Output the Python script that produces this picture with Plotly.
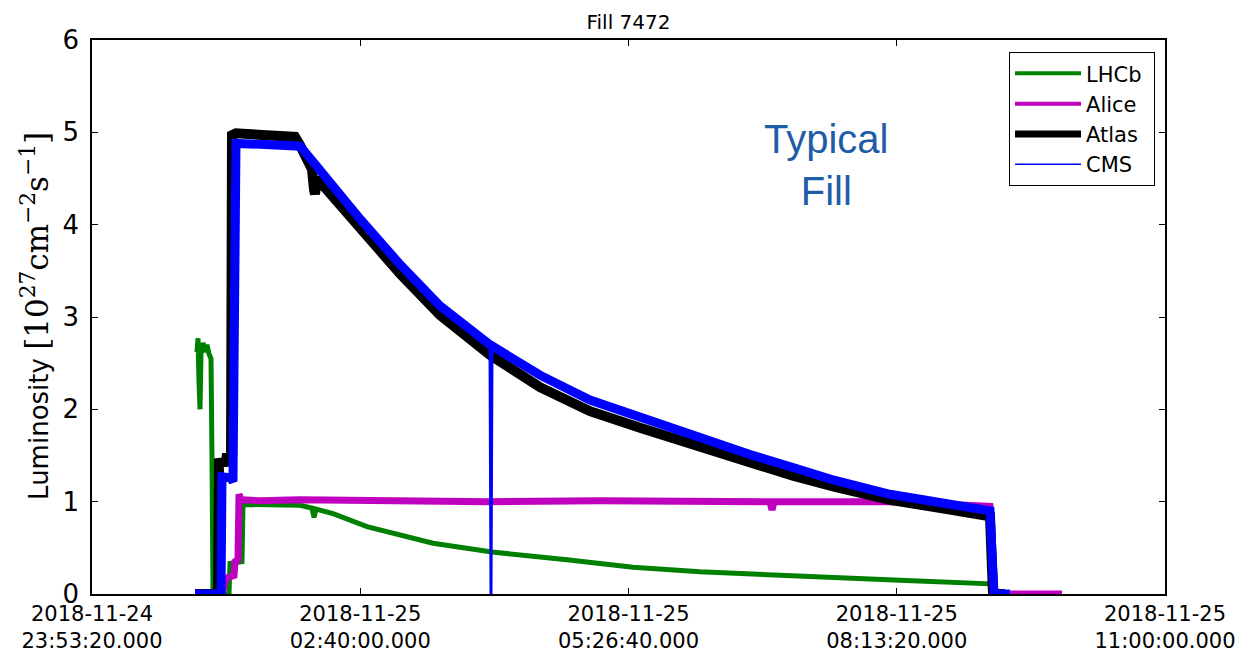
import plotly.graph_objects as go

D = "2018-11-25 "

# LHCb
lhcb_t = ["00:58:34", "00:59:12", "00:59:49", "01:00:26", "01:01:03", "01:02:18", "01:03:32", "01:04:47",
          "01:06:02", "01:07:16", "01:07:53", "01:08:31", "01:18:27", "01:19:04", "01:26:32", "01:27:09",
          "02:02:34", "02:10:01", "02:11:16", "02:12:30", "02:23:04", "02:44:12", "03:25:12", "04:01:51",
          "04:48:27", "05:29:28", "06:11:05", "07:13:13", "08:15:21", "09:11:16", "09:13:08", "09:42:20"]
lhcb_v = [2.62, 2.77, 2.30, 2.00, 2.60, 2.72, 2.62, 2.70,
          2.60, 2.55, 1.48, 0.00, 0.00, 0.33, 0.35, 0.97,
          0.96, 0.93, 0.83, 0.92, 0.87, 0.73, 0.55, 0.455,
          0.37, 0.29, 0.24, 0.19, 0.15, 0.11, 0.00, 0.00]

# Alice
alice_t = ["01:14:06", "01:16:35", "01:21:34", "01:22:11", "01:24:03", "01:24:40", "01:25:55", "01:37:43",
           "02:02:34", "03:04:42", "04:00:37", "05:08:58", "06:11:05", "06:54:35", "06:55:49", "06:57:04",
           "08:09:08", "08:44:33", "09:11:16", "09:14:23", "09:56:00"]
alice_v = [0.00, 0.17, 0.20, 0.35, 0.37, 1.08, 1.02, 1.01,
           1.02, 1.00, 1.00, 1.01, 1.01, 1.00, 0.91, 1.00,
           1.00, 0.98, 0.95, 0.00, 0.00]

# Atlas
atlas_t = ["00:57:20", "01:11:37", "01:12:14", "01:16:35", "01:17:13", "01:17:50", "01:19:42", "01:20:19",
           "01:22:48", "01:37:43", "01:50:08", "01:59:28", "02:02:34",
           "02:07:32", "02:10:01", "02:11:16", "02:11:53", "02:13:08", "02:23:04", "02:40:28", "03:04:42",
           "03:29:33", "04:00:37", "04:31:41", "05:02:45", "05:33:49", "06:11:05", "06:42:09", "07:08:52",
           "07:34:58", "08:09:08", "08:44:33", "09:11:16", "09:13:08", "09:20:35"]
atlas_v = [0.00, 0.00, 1.42, 1.43, 1.52, 1.45, 1.42, 4.97,
           4.99, 4.97, 4.98, 4.95, 4.86,
           4.70, 4.60, 4.38, 4.33, 4.50, 4.30, 3.95, 3.47,
           3.02, 2.59, 2.24, 1.98, 1.80, 1.60, 1.41, 1.28,
           1.16, 1.02, 0.92, 0.84, 0.00, 0.00]

# CMS
cms_t = ["00:57:20", "01:13:29", "01:14:06", "01:19:04", "01:20:56", "01:21:34", "01:22:48", "01:37:43",
         "01:56:21", "02:02:34", "02:08:47", "02:23:04", "02:40:28", "03:04:42", "03:29:33",
         "04:00:37", "04:31:41", "05:02:45", "05:33:49", "06:11:05", "06:42:09",
         "07:08:52", "07:34:58", "08:09:08", "08:44:33", "09:11:16", "09:13:45", "09:23:42"]
cms_v = [0.00, 0.00, 1.27, 1.26, 1.22, 4.86, 4.88, 4.87,
         4.87, 4.85, 4.72, 4.40, 4.05, 3.57, 3.12,
         2.70, 2.37, 2.10, 1.91, 1.69, 1.51,
         1.37, 1.23, 1.08, 0.98, 0.90, 0.00, 0.00]
# CMS single dropout
cms_spike_t = ["04:00:37", "04:01:14", "04:01:51"]
cms_spike_v = [2.66, 0.00, 2.64]

x_range = ["2018-11-24 23:53:20", "2018-11-25 11:00:00"]
x_tickvals = ["2018-11-24 23:53:20", "2018-11-25 02:40:00", "2018-11-25 05:26:40",
              "2018-11-25 08:13:20", "2018-11-25 11:00:00"]
x_ticktext = ["2018-11-24<br>23:53:20.000", "2018-11-25<br>02:40:00.000", "2018-11-25<br>05:26:40.000",
              "2018-11-25<br>08:13:20.000", "2018-11-25<br>11:00:00.000"]
y_tickvals = [0, 1, 2, 3, 4, 5, 6]

FONT = "DejaVu Sans"
C_LHCB, C_ALICE, C_ATLAS, C_CMS = "#008000", "#bf00bf", "#000000", "#0000ff"

fig = go.Figure()
fig.add_trace(go.Scatter(x=[D + t for t in lhcb_t], y=lhcb_v, mode="lines", showlegend=False,
                         line=dict(color=C_LHCB, width=5)))
fig.add_trace(go.Scatter(x=[D + t for t in alice_t], y=alice_v, mode="lines", showlegend=False,
                         line=dict(color=C_ALICE, width=7)))
fig.add_trace(go.Scatter(x=[D + t for t in atlas_t], y=atlas_v, mode="lines", showlegend=False,
                         line=dict(color=C_ATLAS, width=10)))
fig.add_trace(go.Scatter(x=[D + t for t in cms_t], y=cms_v, mode="lines", showlegend=False,
                         line=dict(color=C_CMS, width=9)))
fig.add_trace(go.Scatter(x=[D + t for t in cms_spike_t], y=cms_spike_v, mode="lines", showlegend=False,
                         line=dict(color=C_CMS, width=3)))
# legend entries
for name, col, w in [("LHCb ", C_LHCB, 4), ("Alice ", C_ALICE, 4), ("Atlas ", C_ATLAS, 7), ("CMS ", C_CMS, 1.5)]:
    fig.add_trace(go.Scatter(x=[None], y=[None], mode="lines", name=name, line=dict(color=col, width=w)))

W, H = 1241, 646
fig.update_layout(
    width=W, height=H,
    margin=dict(l=84, r=84, t=32, b=60),
    paper_bgcolor="white", plot_bgcolor="white",
    font=dict(family=FONT, color="black"),
    title=dict(text="Fill 7472", x=0.5, xref="paper", y=1 - 14 / H, yref="container",
               xanchor="center", yanchor="middle", font=dict(size=20, family=FONT)),
    showlegend=True,
    legend=dict(x=0.9907, xanchor="right", y=0.978, yanchor="top", bordercolor="black", borderwidth=1,
                bgcolor="white", font=dict(size=21, family=FONT), traceorder="normal", itemwidth=66),
    xaxis=dict(type="date", range=x_range, tickvals=x_tickvals, ticktext=x_ticktext,
               ticks="inside", ticklen=6, tickcolor="black", mirror="ticks", showline=True,
               linecolor="black", linewidth=1.5, showgrid=False, zeroline=False, automargin=False,
               tickfont=dict(size=21, family=FONT)),
    yaxis=dict(range=[0, 6], tickvals=y_tickvals, ticks="inside", ticklen=6, tickcolor="black",
               mirror="ticks", showline=True, linecolor="black", linewidth=1.5, showgrid=False,
               zeroline=False, automargin=False, tickfont=dict(size=26, family=FONT), ticklabelstandoff=6),
    annotations=[
        dict(text='Luminosity <span style="font-family:DejaVu Serif;font-size:31px">[10<sup>27</sup>cm<sup>−2</sup>s<sup>−1</sup>]</span>',
             textangle=-90, xref="paper", yref="paper", x=(27 - 84) / 1073, y=0.502,
             xanchor="center", yanchor="middle", showarrow=False, font=dict(size=26, family=FONT)),
        dict(text="Typical<br>Fill", xref="paper", yref="paper", x=(818 - 84) / 1073, y=(586 - 157) / 554,
             xanchor="center", yanchor="middle", showarrow=False,
             font=dict(size=40, family="Liberation Sans", color="#1f5ca8")),
    ],
)

fig.write_html("out.html")
